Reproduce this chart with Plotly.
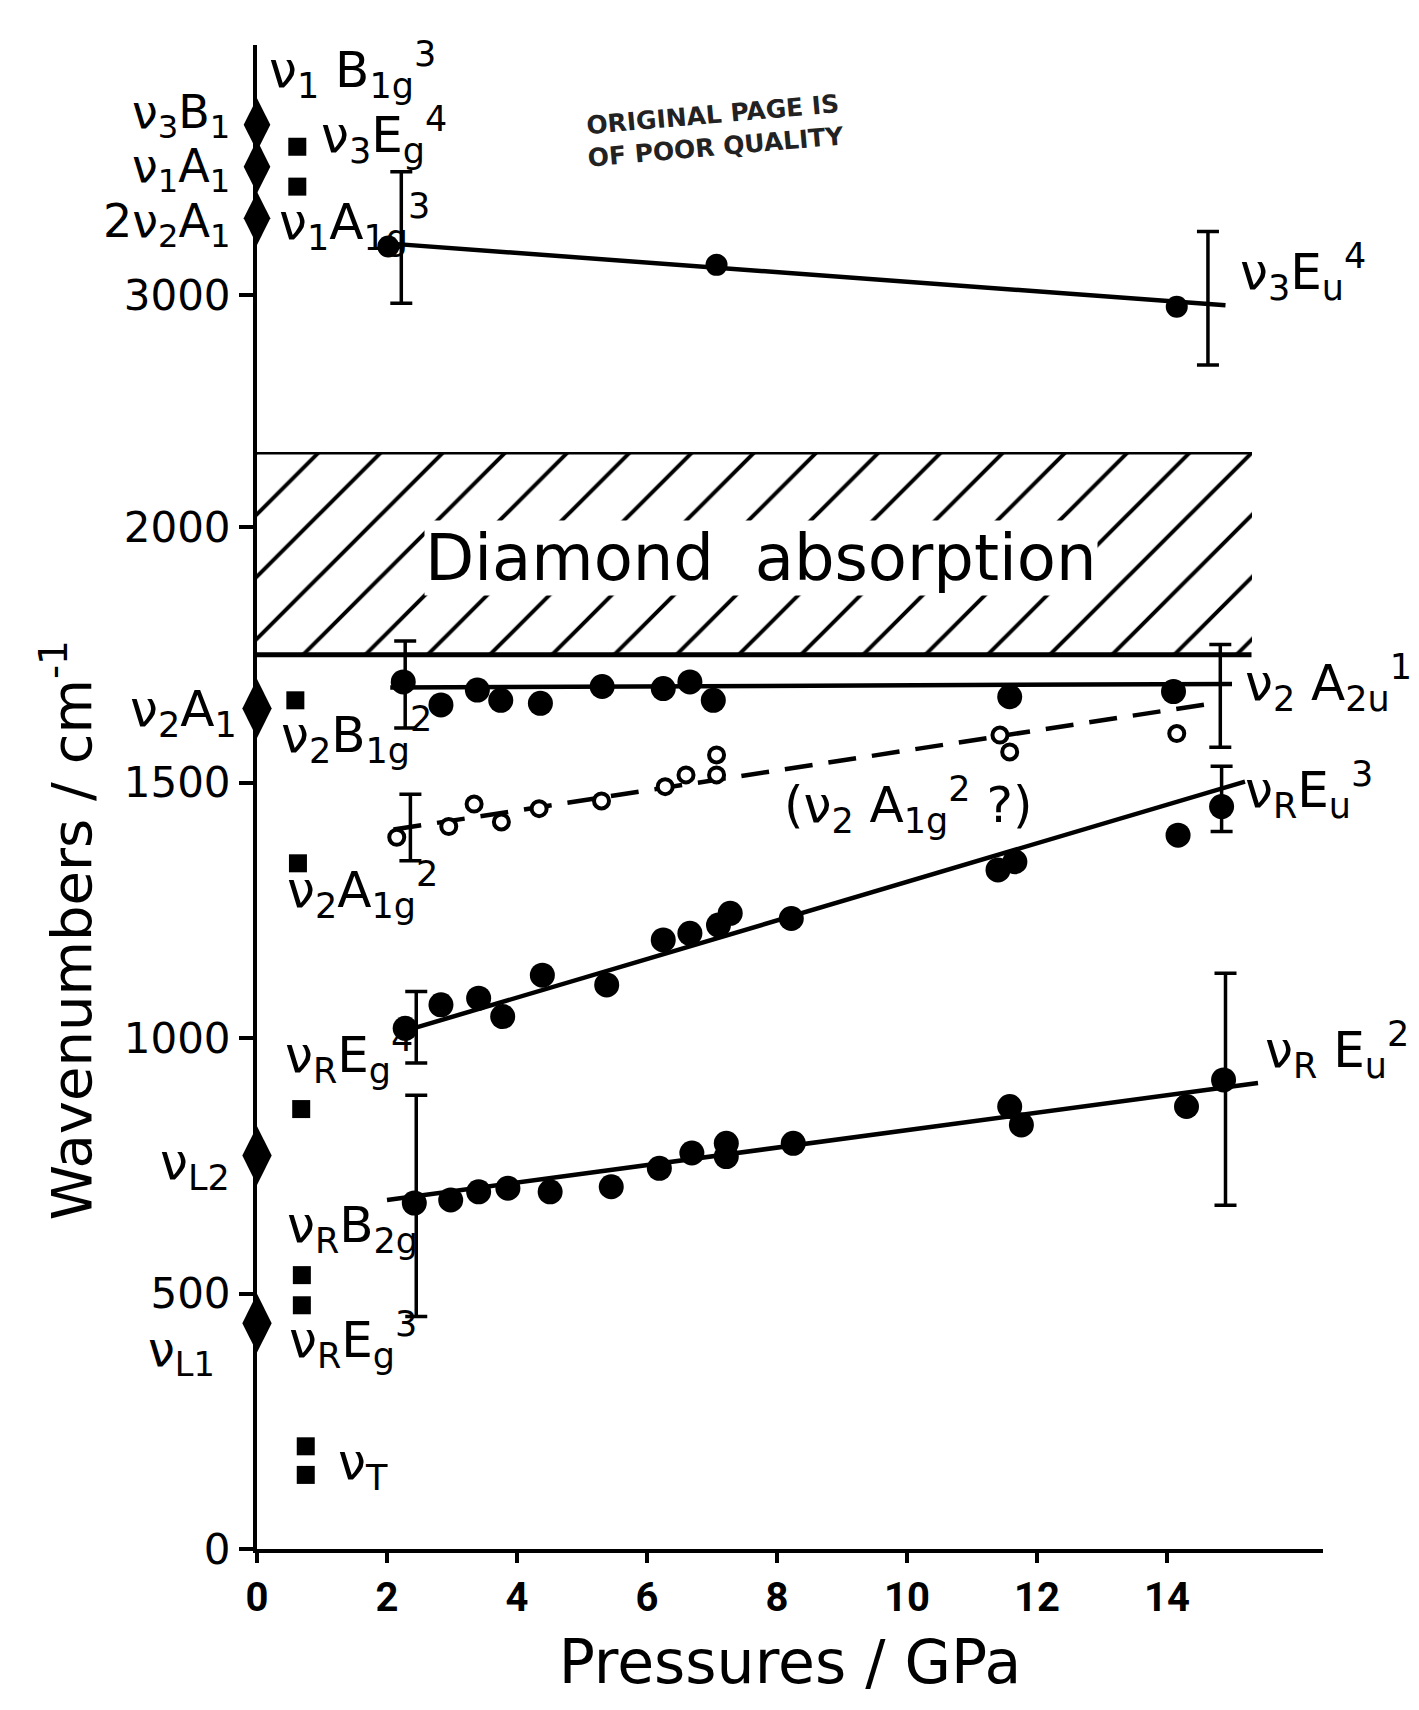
import plotly.graph_objects as go

FONT = "DejaVu Sans"

# ---------------- data (pressure / GPa, wavenumber / cm^-1) ----------------
# upper panel: nu3 Eu^4
v3Eu_p = [2.02, 7.07, 14.15]
v3Eu_w = [3095, 3059, 2977]
v3Eu_fit_p = [2.0, 14.9]
v3Eu_fit_w = [3101, 2980]
v3Eu_err_p = [2.22, 14.63]
v3Eu_err_w = [3098, 2982]
v3Eu_err_plus = [143, 142]
v3Eu_err_minus = [114, 119]

# nu2 A2u^1 (filled)
v2A2u_p = [2.25, 2.83, 3.39, 3.75, 4.36, 5.31, 6.25, 6.66, 7.02, 11.58, 14.10]
v2A2u_w = [1697, 1652, 1681, 1661, 1655, 1688, 1684, 1697, 1661, 1668, 1678]
v2A2u_fit_p = [2.05, 15.0]
v2A2u_fit_w = [1686, 1693]
v2A2u_err_p = [2.28, 14.82]
v2A2u_err_w = [1690, 1694]
v2A2u_err_plus = [87, 76]
v2A2u_err_minus = [83, 125]

# (nu2 A1g^2 ?) open circles, dashed
v2A1g_p = [2.15, 2.95, 3.34, 3.76, 4.34, 5.30, 6.28, 6.60, 7.07, 7.07, 11.43, 11.58, 14.15]
v2A1g_w = [1393, 1414, 1458, 1423, 1449, 1464, 1492, 1515, 1554, 1515, 1593, 1560, 1596]
v2A1g_fit_p = [2.1, 14.8]
v2A1g_fit_w = [1408, 1657]
v2A1g_err_p = [2.36]
v2A1g_err_w = [1413]
v2A1g_err_plus = [64]
v2A1g_err_minus = [66]

# nuR Eu^3
vREu3_p = [2.28, 2.83, 3.41, 3.78, 4.39, 5.38, 6.25, 6.66, 7.10, 7.28, 8.22, 11.40, 11.66, 14.17, 14.84]
vREu3_w = [1019, 1065, 1078, 1042, 1123, 1104, 1192, 1205, 1221, 1244, 1234, 1329, 1345, 1397, 1453]
vREu3_fit_p = [2.3, 15.2]
vREu3_fit_w = [1015, 1502]
vREu3_err_p = [2.45, 14.84]
vREu3_err_w = [1021, 1458]
vREu3_err_plus = [70, 74]
vREu3_err_minus = [70, 54]

# nuR Eu^2
vREu2_p = [2.42, 2.98, 3.41, 3.86, 4.51, 5.45, 6.19, 6.69, 7.22, 7.22, 8.25, 11.58, 11.76, 14.30, 14.87]
vREu2_w = [677, 683, 699, 706, 699, 709, 745, 775, 794, 768, 794, 866, 830, 866, 918]
vREu2_fit_p = [2.0, 15.4]
vREu2_fit_w = [683, 912]
vREu2_err_p = [2.45, 14.9]
vREu2_err_w = [685, 905]
vREu2_err_plus = [203, 222]
vREu2_err_minus = [230, 232]

# ambient-pressure IR (diamonds) and Raman (squares) bands
ir_hi_p = [0, 0, 0]
ir_hi_w = [3333, 3251, 3150]          # nu3 B1, nu1 A1, 2nu2 A1
ir_lo_p = [0, 0, 0]
ir_lo_w = [1645, 770, 442]            # nu2 A1, nuL2, nuL1
raman_hi_p = [0.62, 0.62]
raman_hi_w = [3290, 3212]             # nu3 Eg^4, nu1 A1g^3
raman_lo_p = [0.59, 0.63, 0.68, 0.69, 0.69, 0.75, 0.75]
raman_lo_w = [1661, 1342, 861, 536, 477, 201, 145]

# diamond absorption band
band_p = [0, 15.3]
band_w = [1750, 2147]

# axes
x_ticks = [0, 2, 4, 6, 8, 10, 12, 14]
y_ticks_lo = [0, 500, 1000, 1500, 2000]
y_ticks_hi = [3000]
x_range = [0, 16.4]
y_range_lo = [0, 2147]
y_range_hi = [2693, 3489]

# ---------------- figure ----------------
fig = go.Figure()
BLK = "black"
LO = dict(xaxis="x", yaxis="y")
HI = dict(xaxis="x2", yaxis="y2")

# hatched band
fig.add_trace(go.Bar(
    x=[(band_p[0] + band_p[1]) / 2], y=[band_w[1] - band_w[0]], base=[band_w[0]],
    width=[band_p[1] - band_p[0]],
    marker=dict(color="white", line=dict(width=0),
                pattern=dict(shape="/", size=44, solidity=0.09, fgcolor=BLK,
                             fgopacity=1, bgcolor="white")),
    hoverinfo="skip", **LO))
for yb in band_w:
    fig.add_trace(go.Scatter(x=band_p, y=[yb, yb], mode="lines",
                             line=dict(color=BLK, width=5), hoverinfo="skip", **LO))


def fit_line(px, py, axes, dash="solid"):
    fig.add_trace(go.Scatter(x=px, y=py, mode="lines",
                             line=dict(color=BLK, width=4.5, dash=dash), **axes))


def points(px, py, axes, size=25, open_=False):
    if open_:
        m = dict(symbol="circle", size=15, color="white", line=dict(color=BLK, width=4))
    else:
        m = dict(symbol="circle", size=size, color=BLK, line=dict(width=0))
    fig.add_trace(go.Scatter(x=px, y=py, mode="markers", marker=m, **axes))


def errbars(px, py, plus, minus, axes):
    fig.add_trace(go.Scatter(
        x=px, y=py, mode="markers", marker=dict(size=1, color="rgba(0,0,0,0)"),
        error_y=dict(type="data", symmetric=False, array=plus, arrayminus=minus,
                     color=BLK, thickness=3.5, width=11), **axes))


# upper panel
fit_line(v3Eu_fit_p, v3Eu_fit_w, HI)
errbars(v3Eu_err_p, v3Eu_err_w, v3Eu_err_plus, v3Eu_err_minus, HI)
points(v3Eu_p, v3Eu_w, HI, size=22)
fig.add_trace(go.Scatter(x=ir_hi_p, y=ir_hi_w, mode="markers", cliponaxis=False,
                         marker=dict(symbol="diamond-tall", size=38, color=BLK), **HI))
fig.add_trace(go.Scatter(x=raman_hi_p, y=raman_hi_w, mode="markers", cliponaxis=False,
                         marker=dict(symbol="square", size=18, color=BLK), **HI))

# lower panel
fit_line(v2A2u_fit_p, v2A2u_fit_w, LO)
errbars(v2A2u_err_p, v2A2u_err_w, v2A2u_err_plus, v2A2u_err_minus, LO)
points(v2A2u_p, v2A2u_w, LO)

fit_line(v2A1g_fit_p, v2A1g_fit_w, LO, dash="28px,16px")
errbars(v2A1g_err_p, v2A1g_err_w, v2A1g_err_plus, v2A1g_err_minus, LO)
points(v2A1g_p, v2A1g_w, LO, open_=True)

fit_line(vREu3_fit_p, vREu3_fit_w, LO)
errbars(vREu3_err_p, vREu3_err_w, vREu3_err_plus, vREu3_err_minus, LO)
points(vREu3_p, vREu3_w, LO)

fit_line(vREu2_fit_p, vREu2_fit_w, LO)
errbars(vREu2_err_p, vREu2_err_w, vREu2_err_plus, vREu2_err_minus, LO)
points(vREu2_p, vREu2_w, LO)

fig.add_trace(go.Scatter(x=ir_lo_p, y=ir_lo_w, mode="markers", cliponaxis=False,
                         marker=dict(symbol="diamond-tall", size=42, color=BLK), **LO))
fig.add_trace(go.Scatter(x=raman_lo_p, y=raman_lo_w, mode="markers", cliponaxis=False,
                         marker=dict(symbol="square", size=18, color=BLK), **LO))

# ---------------- labels ----------------
LAB = 50
labels = [
    # text, x (GPa), y (cm^-1), yref, xanchor, size
    ("ν<sub>3</sub>B<sub>1</sub>", -0.38, 3352, "y2", "right", 46),
    ("ν<sub>1</sub>A<sub>1</sub>", -0.38, 3246, "y2", "right", 46),
    ("2ν<sub>2</sub>A<sub>1</sub>", -0.38, 3138, "y2", "right", 46),
    ("ν<sub>1</sub> B<sub>1g</sub><sup>3</sup>", 0.15, 3440, "y2", "left", LAB),
    ("ν<sub>3</sub>E<sub>g</sub><sup>4</sup>", 0.95, 3313, "y2", "left", LAB),
    ("ν<sub>1</sub>A<sub>1g</sub><sup>3</sup>", 0.31, 3143, "y2", "left", LAB),
    ("ν<sub>3</sub>E<sub>u</sub><sup>4</sup>", 15.09, 3045, "y2", "left", LAB),
    ("ν<sub>2</sub>A<sub>1</sub>", -0.28, 1638, "y", "right", LAB),
    ("ν<sub>2</sub>B<sub>1g</sub><sup>2</sup>", 0.34, 1593, "y", "left", LAB),
    ("ν<sub>2</sub>A<sub>1g</sub><sup>2</sup>", 0.43, 1290, "y", "left", LAB),
    ("ν<sub>R</sub>E<sub>g</sub><sup>4</sup>", 0.40, 967, "y", "left", LAB),
    ("ν<sub>L2</sub>", -0.38, 751, "y", "right", LAB),
    ("ν<sub>R</sub>B<sub>2g</sub>", 0.43, 628, "y", "left", LAB),
    ("ν<sub>L1</sub>", -0.62, 384, "y", "right", 48),
    ("ν<sub>R</sub>E<sub>g</sub><sup>3</sup>", 0.46, 409, "y", "left", LAB),
    ("ν<sub>T</sub>", 1.22, 164, "y", "left", LAB),
    ("ν<sub>2</sub> A<sub>2u</sub><sup>1</sup>", 15.17, 1695, "y", "left", LAB),
    ("ν<sub>R</sub>E<sub>u</sub><sup>3</sup>", 15.17, 1485, "y", "left", LAB),
    ("ν<sub>R</sub> E<sub>u</sub><sup>2</sup>", 15.48, 977, "y", "left", LAB),
    ("(ν<sub>2</sub> A<sub>1g</sub><sup>2</sup> ?)", 8.08, 1456, "y", "left", LAB),
]
xspan = x_range[1] - x_range[0]
ann = []
for t, x, y, yr, xa, fs in labels:
    xd = "x domain" if yr == "y" else "x2 domain"
    ann.append(dict(text=t, x=(x - x_range[0]) / xspan, y=y, xref=xd, yref=yr,
                    xanchor=xa, yanchor="middle", showarrow=False,
                    font=dict(family=FONT, size=fs, color=BLK)))
ann.append(dict(text="Diamond&nbsp;&nbsp;absorption", x=7.75, y=1939, xref="x", yref="y",
                showarrow=False, bgcolor="white", borderpad=0,
                font=dict(family=FONT, size=64, color=BLK)))
ann.append(dict(text="Wavenumbers / cm<sup>-1</sup>", x=-0.177, y=0.4116, xref="paper", yref="paper",
                textangle=-90, showarrow=False, xanchor="center", yanchor="middle",
                font=dict(family=FONT, size=56, color=BLK)))
ann.append(dict(text="ORIGINAL PAGE IS<br>OF POOR QUALITY", x=0.4296, y=0.972,
                xref="paper", yref="paper", textangle=-5, showarrow=False,
                font=dict(family=FONT, size=25, color="#222222", weight="bold")))

axis_common = dict(showline=True, linewidth=4, linecolor=BLK, showgrid=False, zeroline=False,
                   ticks="outside", tickwidth=4, tickcolor=BLK)

fig.update_layout(
    width=1419, height=1710,
    margin=dict(l=257, r=96, t=45, b=161),
    paper_bgcolor="white", plot_bgcolor="white",
    showlegend=False, bargap=0,
    font=dict(family=FONT, color=BLK),
    annotations=ann,
    xaxis=dict(domain=[0, 1], anchor="y", range=x_range, tickvals=x_ticks,
               ticklen=10, tickfont=dict(family="Roboto", size=40, weight="bold"),
               title=dict(text="Pressures / GPa", standoff=22,
                          font=dict(family=FONT, size=60)),
               **axis_common),
    yaxis=dict(domain=[0, 0.7294], anchor="x", range=y_range_lo, tickvals=y_ticks_lo,
               ticklen=14, tickfont=dict(family=FONT, size=42), **axis_common),
    xaxis2=dict(domain=[0, 1], anchor="y2", matches="x", visible=False),
    yaxis2=dict(domain=[0.7294, 1], anchor="x2", range=y_range_hi, tickvals=y_ticks_hi,
                ticklen=14, tickfont=dict(family=FONT, size=42), **axis_common),
)

fig.write_html("out.html")
